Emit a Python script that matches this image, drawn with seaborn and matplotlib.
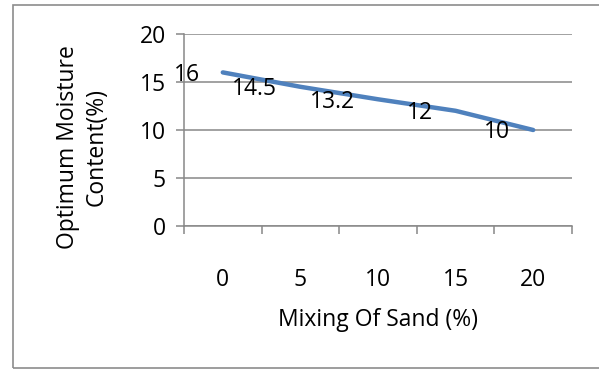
import matplotlib
matplotlib.use("Agg")
import matplotlib.pyplot as plt
import matplotlib.patches as mpatches
import seaborn as sns
import pandas as pd

# Optimum moisture content versus percentage of sand mixed in
sand_pct = ["0", "5", "10", "15", "20"]
omc_values = [16, 14.5, 13.2, 12, 10]
y_ticks = [0, 5, 10, 15, 20]

df = pd.DataFrame({"pos": range(len(sand_pct)), "omc": omc_values})

sns.set_theme(style="white")
plt.rcParams["font.family"] = ["Open Sans", "DejaVu Sans"]
plt.rcParams["text.color"] = "black"
plt.rcParams["xtick.color"] = "black"
plt.rcParams["ytick.color"] = "black"

FS = 16.5
W, H = 599, 369
fig = plt.figure(figsize=(W / 100, H / 100), dpi=100)
fig.patch.set_facecolor("white")

# outer chart frame
fig.add_artist(mpatches.Rectangle((13 / W, 1 - 368 / H), (W + 5 - 13) / W, (368 - 5) / H,
                                  transform=fig.transFigure, fill=False,
                                  edgecolor="#8c8c8c", linewidth=1.2))

ax = fig.add_axes([184 / W, 1 - 226 / H, (572 - 184) / W, (226 - 34) / H])

grid_col = "#888888"
sns.lineplot(data=df, x="pos", y="omc", ax=ax, color="#4f81bd", linewidth=3.2,
             solid_capstyle="round")

ax.set_xlim(-0.5, len(sand_pct) - 0.5)
ax.set_ylim(0, 20)
ax.set_yticks(y_ticks)
ax.set_yticklabels([str(v) for v in y_ticks], fontsize=FS)
ax.yaxis.grid(True, color=grid_col, linewidth=1.1)
ax.set_axisbelow(True)

# category axis: labels at centers, tick marks between categories
ax.set_xticks(range(len(sand_pct)))
ax.set_xticklabels(sand_pct, fontsize=FS)
ax.set_xticks([i - 0.5 for i in range(len(sand_pct) + 1)], minor=True)
ax.tick_params(axis="x", which="major", length=0, pad=30, colors="black")
ax.tick_params(axis="x", which="minor", length=6, color=grid_col, width=1.1, direction="out")
ax.tick_params(axis="y", length=6, color=grid_col, labelcolor="black", width=1.1,
               direction="out", pad=7)
ax.xaxis.set_ticks_position("bottom")
ax.yaxis.set_ticks_position("left")

for side in ["top", "right"]:
    ax.spines[side].set_visible(False)
for side in ["left", "bottom"]:
    ax.spines[side].set_color(grid_col)
    ax.spines[side].set_linewidth(1.1)

ax.set_xlabel("")
ax.set_ylabel("")

# data labels, placed to the left of each point
for i, v in enumerate(omc_values):
    ax.annotate(f"{v:g}", (i, v), xytext=(-23, -2.5), textcoords="offset pixels",
                ha="right", va="center", fontsize=FS, color="black")

fig.text(378 / W, 1 - 320 / H, "Mixing Of Sand (%)", ha="center", va="center", fontsize=FS)
fig.text(82 / W, 1 - 147 / H, "Optimum Moisture\nContent(%)", ha="center", va="center",
         rotation=90, fontsize=FS, linespacing=1.25, multialignment="center")

fig.savefig("out.png", dpi=100, facecolor="white")
